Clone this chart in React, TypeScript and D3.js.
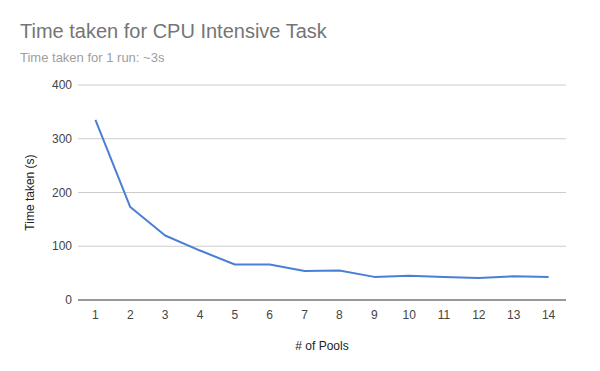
import { useEffect, useRef } from 'react';
import * as d3 from 'd3';

const pools = ['1', '2', '3', '4', '5', '6', '7', '8', '9', '10', '11', '12', '13', '14'];
const timeTaken = [335, 173, 120, 92, 66, 66, 54, 55, 43, 45, 43, 41, 44, 43];
const yTicks = [0, 100, 200, 300, 400];

export default function App() {
  const svgRef = useRef<SVGSVGElement>(null);

  useEffect(() => {
    if (!svgRef.current) return;
    d3.select(svgRef.current).selectAll('*').remove();

    const width = 600;
    const height = 371;
    const margin = { top: 85, right: 34, bottom: 71, left: 78 };
    const font = 'Arial, "Liberation Sans", sans-serif';

    const svg = d3.select(svgRef.current)
      .attr('width', width)
      .attr('height', height)
      .style('display', 'block')
      .style('background', '#fff');

    const x = d3.scaleBand<string>()
      .domain(pools)
      .range([margin.left, width - margin.right]);

    const y = d3.scaleLinear()
      .domain([0, 400])
      .range([height - margin.bottom, margin.top]);

    // Titles
    svg.append('text')
      .attr('x', 20)
      .attr('y', 38)
      .style('font-family', font)
      .style('font-size', '20px')
      .style('fill', '#757575')
      .text('Time taken for CPU Intensive Task');

    svg.append('text')
      .attr('x', 20)
      .attr('y', 62)
      .style('font-family', font)
      .style('font-size', '13px')
      .style('fill', '#9e9e9e')
      .text('Time taken for 1 run: ~3s');

    // Gridlines
    svg.append('g')
      .selectAll('line')
      .data(yTicks.filter(d => d > 0))
      .join('line')
      .attr('x1', margin.left)
      .attr('x2', width - margin.right)
      .attr('y1', d => y(d))
      .attr('y2', d => y(d))
      .attr('stroke', '#cccccc')
      .attr('stroke-width', 1);

    // Y tick labels
    svg.append('g')
      .selectAll('text')
      .data(yTicks)
      .join('text')
      .attr('x', margin.left - 6)
      .attr('y', d => y(d))
      .attr('dy', '0.35em')
      .attr('text-anchor', 'end')
      .style('font-family', font)
      .style('font-size', '12px')
      .style('fill', '#444')
      .text(d => d);

    // Baseline
    svg.append('line')
      .attr('x1', margin.left)
      .attr('x2', width - margin.right)
      .attr('y1', y(0))
      .attr('y2', y(0))
      .attr('stroke', '#333')
      .attr('stroke-width', 1);

    // X tick labels
    svg.append('g')
      .selectAll('text')
      .data(pools)
      .join('text')
      .attr('x', d => (x(d) || 0) + x.bandwidth() / 2)
      .attr('y', y(0) + 19)
      .attr('text-anchor', 'middle')
      .style('font-family', font)
      .style('font-size', '12px')
      .style('fill', '#444')
      .text(d => d);

    // Line
    const line = d3.line<number>()
      .x((_, i) => (x(pools[i]) || 0) + x.bandwidth() / 2)
      .y(d => y(d));

    svg.append('path')
      .datum(timeTaken)
      .attr('d', line)
      .attr('fill', 'none')
      .attr('stroke', '#4a7fd6')
      .attr('stroke-width', 2)
      .attr('stroke-linejoin', 'round');

    // Axis titles
    svg.append('text')
      .attr('x', (margin.left + width - margin.right) / 2)
      .attr('y', 350)
      .attr('text-anchor', 'middle')
      .style('font-family', font)
      .style('font-size', '12px')
      .style('fill', '#222')
      .text('# of Pools');

    svg.append('text')
      .attr('transform', `translate(34, ${(y(0) + y(400)) / 2}) rotate(-90)`)
      .attr('text-anchor', 'middle')
      .style('font-family', font)
      .style('font-size', '12px')
      .style('fill', '#222')
      .text('Time taken (s)');
  }, []);

  return (
    <div style={{ margin: -8 }}>
      <svg ref={svgRef}></svg>
    </div>
  );
}
